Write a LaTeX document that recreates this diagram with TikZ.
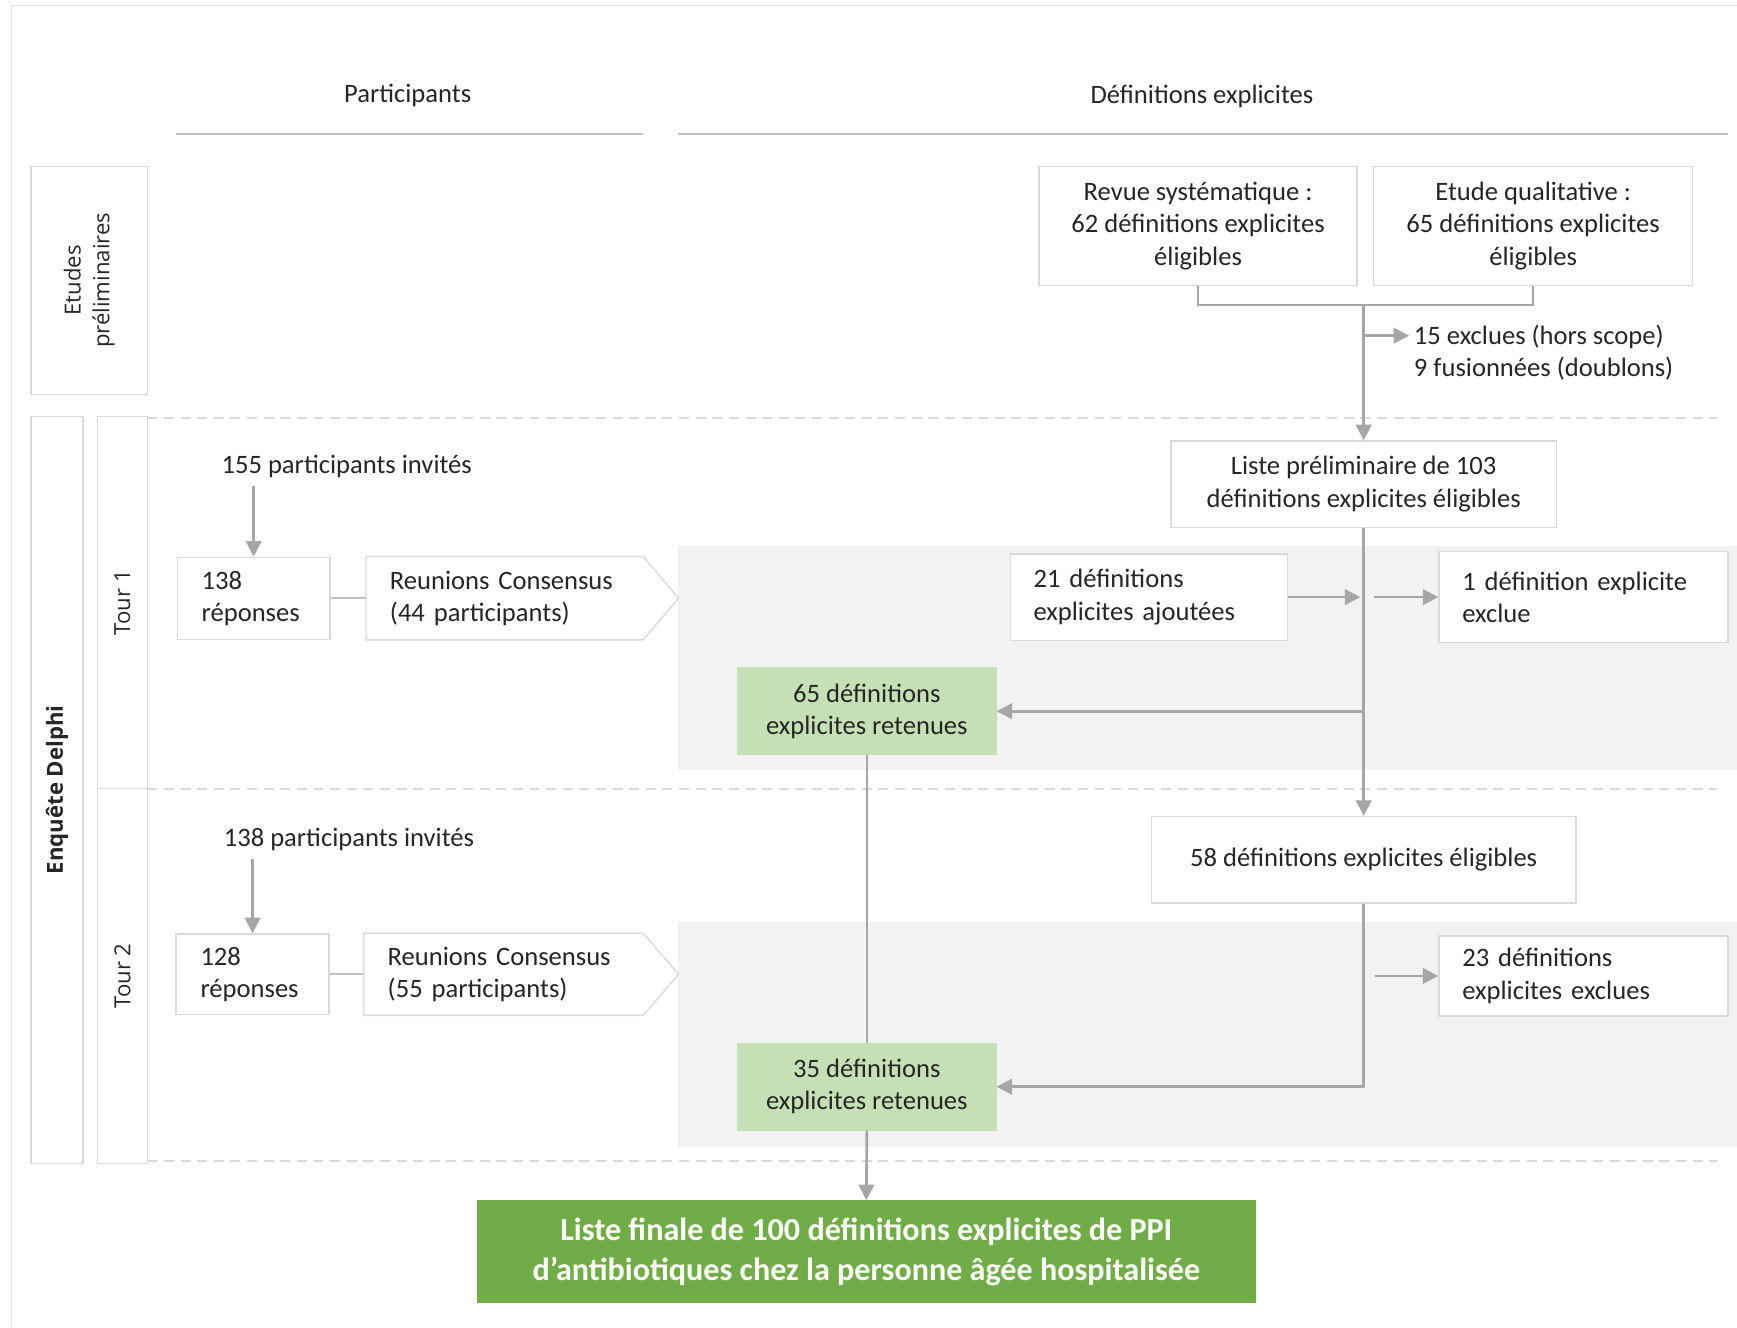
\documentclass[tikz,border=0pt]{standalone}
\usepackage{fontspec}
\setmainfont{Carlito}
\newfontfamily\lanefont{Open Sans}
\usetikzlibrary{arrows.meta}

\definecolor{linegray}{HTML}{A6A6A6}
\definecolor{boxgray}{HTML}{D9D9D9}
\definecolor{bandgray}{HTML}{F2F2F2}
\definecolor{paleGreen}{HTML}{C5E0B4}
\definecolor{darkGreen}{HTML}{70AD47}
\definecolor{txtgray}{HTML}{262626}

\begin{document}
\begin{tikzpicture}[x=0.5pt, y=-0.5pt,
			every node/.style={text=txtgray, font=\fontsize{12}{14.5}\selectfont},
			box/.style={rectangle, draw=boxgray, line width=0.6pt, fill=white, inner sep=0pt, align=center},
			leftbox/.style={box, align=left, inner xsep=10.5pt},
			keep/.style={box, draw=paleGreen, fill=paleGreen, minimum width=116.5pt, minimum height=39pt},
			lane/.style={rectangle, draw=boxgray, line width=0.6pt, rotate=90, inner sep=0pt, align=center, font=\lanefont\fontsize{10}{13}\selectfont},
			arrow/.style={-{Triangle[length=7pt,width=7pt]}, line width=1.2pt, linegray},
			link/.style={line width=1pt, linegray},
			sep/.style={boxgray, line width=0.8pt, dash pattern=on 4.5pt off 3pt}
		]
		\useasboundingbox (0,0) rectangle (1568,1198);

		% Frame and shaded rounds
		\draw[boxgray!70, line width=0.5pt] (1568,5) -- (10,5) -- (10,1198);
		\fill[bandgray] (612,493) rectangle (1568,695);
		\fill[bandgray] (612,832) rectangle (1568,1035);
		\draw[sep] (133,377) -- (1550,377);
		\draw[sep] (133,712) -- (1550,712);
		\draw[sep] (133,1048) -- (1550,1048);

		% Column headers
		\node (hpart) at (368,86) {Participants};
		\node (hdef) at (1085,87) {Définitions explicites};
		\draw[linegray!70, line width=1pt] (159,121) -- (580,121);
		\draw[linegray!70, line width=1pt] (612,121) -- (1560,121);

		% Lanes
		\node[lane, minimum width=103pt, minimum height=52.5pt] (etud) at (80.5,253) {Etudes\\préliminaires};
		\node[lane, minimum width=337pt, minimum height=23.5pt, font=\lanefont\bfseries\fontsize{10}{13}\selectfont] (delphi) at (51.5,713) {Enquête Delphi};
		\node[lane, minimum width=168pt, minimum height=22.5pt] (tour1) at (110.5,544) {Tour 1};
		\node[lane, minimum width=169pt, minimum height=22.5pt] (tour2) at (110.5,881) {Tour 2};

		% Preliminary studies
		\node[box, minimum width=143.5pt, minimum height=54pt] (revue) at (1081.5,204) {Revue systématique :\\62 définitions explicites\\éligibles};
		\node[box, minimum width=144pt, minimum height=54pt] (qualit) at (1384,204) {Etude qualitative :\\65 définitions explicites\\éligibles};
		\coordinate (merge) at (1231,275);
		\coordinate (split) at (1231,303);
		\node[anchor=west, align=left, inner sep=2pt] (excl) at (1272,318) {15 exclues (hors scope)\\9 fusionnées (doublons)};
		\node[box, minimum width=174pt, minimum height=39pt] (liste) at (1231,437) {Liste préliminaire de 103\\définitions explicites éligibles};

		% Round 1
		\node (inv1) at (313,421) {155 participants invités};
		\node[leftbox, text width=47pt, inner xsep=11pt, minimum height=37pt] (rep1) at (229,540) {138\\réponses};
		\node[leftbox, draw=none, text width=103.5pt, minimum height=37pt] (reun1) at (455.5,540) {Reunions Consensus\\(44 participants)};
		\node[leftbox, text width=104pt, minimum height=39pt] (ajout) at (1037,539) {21 définitions\\explicites ajoutées};
		\node[leftbox, text width=109.5pt, minimum height=41pt] (excl1) at (1429.5,539) {1 définition explicite\\exclue};
		\node[keep] (ret1) at (782.5,642) {65 définitions\\explicites retenues};

		% Round 2
		\node (inv2) at (315,758) {138 participants invités};
		\node[leftbox, text width=47pt, inner xsep=11pt, minimum height=36.5pt] (rep2) at (228,879.5) {128\\réponses};
		\node[leftbox, draw=none, text width=104.5pt, minimum height=36.5pt] (reun2) at (454.5,879.5) {Reunions Consensus\\(55 participants)};
		\node[box, minimum width=191.5pt, minimum height=39pt] (elig58) at (1231,776) {58 définitions explicites éligibles};
		\node[leftbox, text width=109.5pt, minimum height=36pt] (excl23) at (1429.5,881) {23 définitions\\explicites exclues};
		\node[keep] (ret2) at (782.5,981) {35 définitions\\explicites retenues};

		% Final list
		\node[box, draw=darkGreen, fill=darkGreen, text=white, font=\bfseries\fontsize{14.5}{18}\selectfont, minimum width=351pt, minimum height=46pt] (final) at (782,1130) {Liste finale de 100 définitions explicites de PPI\\d’antibiotiques chez la personne âgée hospitalisée};

		% Consensus meeting outlines
		\draw[boxgray, line width=0.6pt] (reun1.north west) -- (reun1.north east) -- ([xshift=16pt]reun1.east) -- (reun1.south east) -- (reun1.south west) -- cycle;
		\draw[boxgray, line width=0.6pt] (reun2.north west) -- (reun2.north east) -- ([xshift=16pt]reun2.east) -- (reun2.south east) -- (reun2.south west) -- cycle;

		% Connectors
		\draw[link] (revue.south) -- ++(0,17) -| (qualit.south);
		\draw[arrow] (merge) -- (liste.north);
		\draw[arrow] (split) -- (split -| excl.west);
		\draw[link] (liste.south) -- (liste.south |- ret1.east);
		\draw[arrow] (liste.south |- ret1.east) -- (ret1.east);
		\draw[arrow] (liste.south) -- (elig58.north);
		\draw[arrow, shorten >=1.5pt] (ajout.east) -- (ajout.east -| liste.south);
		\draw[arrow, shorten <=4.5pt] (ajout.east -| liste.south) -- (excl1.west);
		\draw[linegray, line width=0.6pt] (ret1.south) -- (ret2.north);
		\draw[arrow] (elig58.south) |- (ret2.east);
		\draw[arrow, shorten <=5pt] (elig58.south |- excl23.west) -- (excl23.west);
		\draw[arrow] (ret2.south) -- (final.north);

		\draw[arrow] (rep1.north |- inv1.south) -- (rep1.north);
		\draw[linegray!70, line width=0.8pt] (rep1.east) -- (reun1.west);
		\draw[arrow] (rep2.north |- inv2.south) -- (rep2.north);
		\draw[linegray!70, line width=0.8pt] (rep2.east) -- (reun2.west);

	\end{tikzpicture}
\end{document}
